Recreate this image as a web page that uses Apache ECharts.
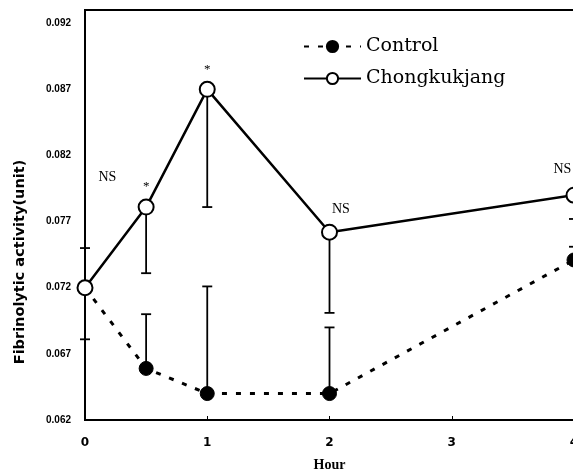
<!DOCTYPE html>
<html>
<head>
<meta charset="utf-8">
<title>Fibrinolytic activity</title>
<script src="https://cdn.jsdelivr.net/npm/echarts@6/dist/echarts.min.js"></script>
<style>
  html, body { margin: 0; padding: 0; background: #fff; }
  #main { width: 573px; height: 474px; }
</style>
</head>
<body>
<div id="main"></div>
<script>
// data
var hours = [0, 0.5, 1, 2, 4];
var control = [0.0720, 0.0659, 0.0640, 0.0640, 0.0741];
var chong = [0.0720, 0.0781, 0.0870, 0.0762, 0.0790];
// where each error bar ends (one-sided bars)
var controlBarEnd = [0.0681, 0.0700, 0.0721, 0.0690, 0.0751];
var chongBarEnd = [0.0750, 0.0731, 0.0781, 0.0701, 0.0772];
// significance marks above the Chongkukjang points
var marks = ['NS', '*', '*', 'NS', 'NS'];
var yTicks = [0.062, 0.067, 0.072, 0.077, 0.082, 0.087, 0.092];

function pairs(xs, ys) {
  return xs.map(function (x, i) { return [x, ys[i]]; });
}

function errBars(values, ends) {
  return hours.map(function (h, i) { return [h, values[i], ends[i]]; });
}

function renderBar(params, api) {
  var p0 = api.coord([api.value(0), api.value(1)]);
  var p1 = api.coord([api.value(0), api.value(2)]);
  var cap = 5;
  var st = { stroke: '#000', lineWidth: 1.8 };
  return {
    type: 'group',
    children: [
      { type: 'line', shape: { x1: p0[0], y1: p0[1], x2: p1[0], y2: p1[1] }, style: st },
      { type: 'line', shape: { x1: p1[0] - cap, y1: p1[1], x2: p1[0] + cap, y2: p1[1] }, style: st }
    ]
  };
}

// label offsets (relative to the symbol box) for each mark
var markPos = [[22, -109], 'top', 'top', [11, -21], [-12, -24]];

var chongData = pairs(hours, chong).map(function (d, i) {
  return {
    value: d,
    label: {
      show: true,
      formatter: marks[i],
      position: markPos[i],
      distance: 5,
      fontFamily: 'Liberation Serif',
      fontSize: marks[i] === '*' ? 13 : 14,
      color: '#000'
    }
  };
});

var chart = echarts.init(document.getElementById('main'));
chart.setOption({
  animation: false,
  backgroundColor: '#fff',
  grid: {
    left: 85, top: 10, width: 489, bottom: 54,
    outerBoundsMode: 'none',
    show: true, borderColor: '#000', borderWidth: 2
  },
  legend: {
    orient: 'vertical',
    left: 298,
    top: 32,
    itemWidth: 57,
    itemHeight: 14,
    itemGap: 13,
    data: ['Control', 'Chongkukjang'],
    textStyle: { fontFamily: 'DejaVu Serif', fontSize: 19, color: '#000' }
  },
  graphic: [{
    type: 'text',
    x: 20,
    y: 262,
    rotation: Math.PI / 2,
    style: {
      text: 'Fibrinolytic activity(unit)',
      fontFamily: 'DejaVu Sans',
      fontWeight: 'bold',
      fontSize: 14.5,
      fill: '#000',
      align: 'center',
      verticalAlign: 'middle'
    }
  }],
  xAxis: {
    type: 'value',
    min: 0,
    max: 4,
    interval: 1,
    name: 'Hour',
    nameLocation: 'middle',
    nameGap: 38,
    nameTextStyle: { fontFamily: 'Liberation Serif', fontWeight: 'bold', fontSize: 14, color: '#000' },
    axisLine: { lineStyle: { color: '#000', width: 2 } },
    axisTick: { inside: true, length: 4, lineStyle: { color: '#000' } },
    axisLabel: { fontFamily: 'DejaVu Sans', fontWeight: 'bold', fontSize: 12, color: '#000', margin: 17 },
    splitLine: { show: false }
  },
  yAxis: {
    type: 'value',
    min: 0.062,
    max: 0.093,
    interval: 0.005,
    axisLine: { lineStyle: { color: '#000', width: 2 } },
    axisTick: { show: false },
    axisLabel: {
      fontFamily: 'Liberation Sans', fontWeight: 'bold', fontSize: 10, color: '#000', margin: 14,
      formatter: function (v) {
        var hit = yTicks.filter(function (t) { return Math.abs(t - v) < 1e-6; });
        return hit.length ? hit[0].toFixed(3) : '';
      }
    },
    splitLine: { show: false }
  },
  series: [
    {
      type: 'custom',
      name: 'controlErr',
      renderItem: renderBar,
      data: errBars(control, controlBarEnd),
      z: 1,
      silent: true
    },
    {
      type: 'custom',
      name: 'chongErr',
      renderItem: renderBar,
      data: errBars(chong, chongBarEnd),
      z: 1,
      silent: true
    },
    {
      name: 'Control',
      type: 'line',
      data: pairs(hours, control),
      symbol: 'circle',
      symbolSize: 14,
      itemStyle: { color: '#000', borderColor: '#000', borderWidth: 1 },
      lineStyle: { color: '#000', width: 3, type: [5, 9] },
      z: 3
    },
    {
      name: 'Chongkukjang',
      type: 'line',
      data: chongData,
      symbol: 'circle',
      symbolSize: 15,
      itemStyle: { color: '#fff', borderColor: '#000', borderWidth: 2 },
      lineStyle: { color: '#000', width: 2.5 },
      z: 4
    }
  ]
});
</script>
</body>
</html>
